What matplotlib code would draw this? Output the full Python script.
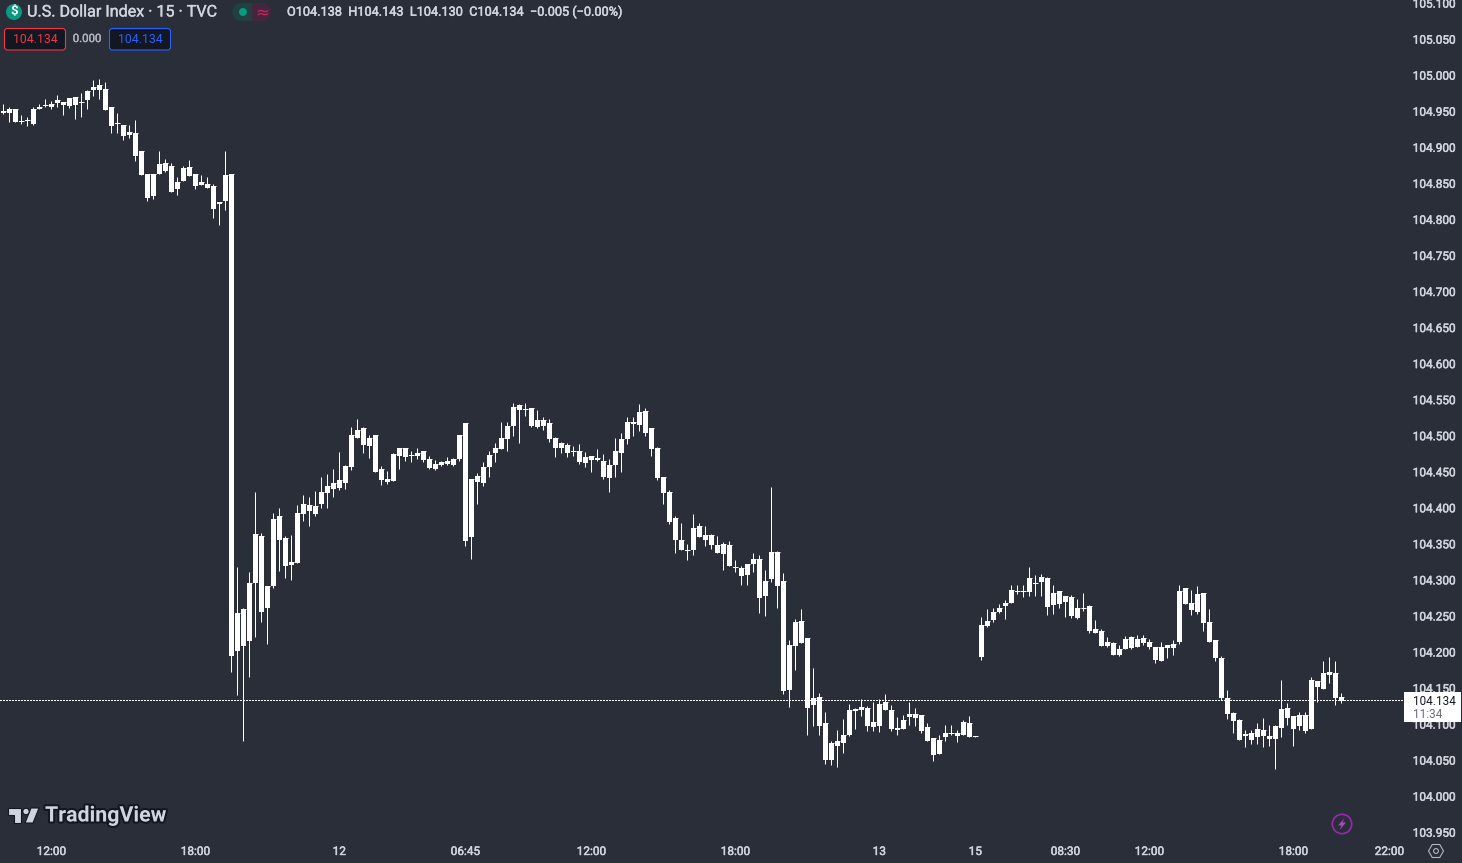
import matplotlib
matplotlib.use("Agg")
import matplotlib.pyplot as plt
import matplotlib.patheffects as pe
from matplotlib.patches import Circle, FancyBboxPatch, Polygon, Rectangle, RegularPolygon, Wedge
from matplotlib.transforms import Affine2D, ScaledTranslation
import numpy as np

W, H = 1462, 863

# 15 minute candles (all are drawn white)
highs = [
    104.961, 104.956, 104.954, 104.945, 104.942, 104.956, 104.961, 104.967, 104.964, 104.973,
    104.963, 104.969, 104.970, 104.976, 104.980, 104.994, 104.995, 104.991, 104.956, 104.948,
    104.931, 104.931, 104.938, 104.895, 104.863, 104.863, 104.895, 104.884, 104.879, 104.859,
    104.875, 104.883, 104.863, 104.862, 104.859, 104.850, 104.825, 104.895, 104.863, 104.318,
    104.262, 104.312, 104.422, 104.366, 104.292, 104.393, 104.400, 104.361, 104.363, 104.404,
    104.418, 104.416, 104.424, 104.443, 104.447, 104.454, 104.478, 104.460, 104.513, 104.524,
    104.513, 104.502, 104.502, 104.458, 104.452, 104.477, 104.483, 104.483, 104.479, 104.483,
    104.479, 104.472, 104.467, 104.465, 104.471, 104.470, 104.502, 104.518, 104.440, 104.449,
    104.464, 104.479, 104.490, 104.520, 104.520, 104.546, 104.544, 104.546, 104.539, 104.536,
    104.526, 104.524, 104.499, 104.492, 104.490, 104.486, 104.489, 104.478, 104.472, 104.482,
    104.475, 104.468, 104.497, 104.504, 104.526, 104.526, 104.544, 104.539, 104.511, 104.485,
    104.443, 104.425, 104.389, 104.379, 104.350, 104.392, 104.379, 104.375, 104.364, 104.361,
    104.353, 104.354, 104.328, 104.320, 104.323, 104.338, 104.335, 104.314, 104.429, 104.341,
    104.310, 104.217, 104.246, 104.260, 104.220, 104.178, 104.144, 104.117, 104.077, 104.092,
    104.108, 104.128, 104.123, 104.135, 104.126, 104.131, 104.135, 104.142, 104.127, 104.110,
    104.113, 104.131, 104.123, 104.113, 104.102, 104.081, 104.085, 104.099, 104.099, 104.092,
    104.106, 104.112, 104.084, 104.249, 104.260, 104.261, 104.267, 104.273, 104.293, 104.293,
    104.293, 104.318, 104.307, 104.309, 104.304, 104.293, 104.285, 104.278, 104.280, 104.274,
    104.282, 104.266, 104.245, 104.232, 104.221, 104.214, 104.210, 104.223, 104.223, 104.224,
    104.224, 104.218, 104.207, 104.214, 104.210, 104.217, 104.293, 104.289, 104.286, 104.292,
    104.282, 104.260, 104.217, 104.195, 104.148, 104.117, 104.108, 104.092, 104.092, 104.102,
    104.109, 104.099, 104.099, 104.162, 104.130, 104.112, 104.117, 104.117, 104.166, 104.160,
    104.188, 104.194, 104.188, 104.143,
]
body_tops = [
    104.951, 104.954, 104.954, 104.937, 104.938, 104.954, 104.956, 104.959, 104.961, 104.966,
    104.963, 104.969, 104.970, 104.963, 104.978, 104.984, 104.987, 104.981, 104.956, 104.934,
    104.931, 104.922, 104.920, 104.895, 104.863, 104.863, 104.877, 104.879, 104.875, 104.852,
    104.872, 104.873, 104.863, 104.852, 104.850, 104.847, 104.824, 104.862, 104.863, 104.255,
    104.260, 104.296, 104.364, 104.361, 104.292, 104.385, 104.389, 104.359, 104.325, 104.393,
    104.406, 104.404, 104.403, 104.423, 104.431, 104.435, 104.439, 104.458, 104.502, 104.508,
    104.511, 104.497, 104.502, 104.454, 104.440, 104.475, 104.483, 104.483, 104.474, 104.477,
    104.479, 104.468, 104.461, 104.464, 104.465, 104.468, 104.502, 104.518, 104.440, 104.445,
    104.457, 104.474, 104.483, 104.497, 104.514, 104.540, 104.543, 104.538, 104.539, 104.522,
    104.522, 104.518, 104.497, 104.490, 104.488, 104.479, 104.479, 104.471, 104.472, 104.470,
    104.465, 104.460, 104.479, 104.496, 104.520, 104.520, 104.533, 104.535, 104.511, 104.483,
    104.443, 104.422, 104.386, 104.356, 104.342, 104.372, 104.375, 104.363, 104.363, 104.349,
    104.350, 104.349, 104.318, 104.317, 104.323, 104.329, 104.329, 104.299, 104.339, 104.339,
    104.299, 104.210, 104.242, 104.244, 104.220, 104.137, 104.138, 104.102, 104.074, 104.077,
    104.085, 104.120, 104.121, 104.124, 104.123, 104.103, 104.128, 104.131, 104.120, 104.095,
    104.106, 104.115, 104.115, 104.113, 104.097, 104.081, 104.078, 104.088, 104.088, 104.088,
    104.103, 104.102, 104.084, 104.238, 104.243, 104.256, 104.261, 104.268, 104.286, 104.285,
    104.285, 104.303, 104.296, 104.304, 104.303, 104.282, 104.285, 104.278, 104.277, 104.261,
    104.262, 104.264, 104.232, 104.230, 104.214, 104.213, 104.205, 104.218, 104.221, 104.218,
    104.220, 104.214, 104.207, 104.207, 104.210, 104.212, 104.285, 104.289, 104.268, 104.281,
    104.282, 104.242, 104.217, 104.192, 104.137, 104.116, 104.106, 104.086, 104.088, 104.094,
    104.092, 104.084, 104.098, 104.122, 104.123, 104.112, 104.113, 104.113, 104.162, 104.160,
    104.171, 104.173, 104.171, 104.138,
]
body_bottoms = [
    104.948, 104.948, 104.935, 104.935, 104.937, 104.933, 104.954, 104.958, 104.957, 104.962,
    104.959, 104.958, 104.959, 104.962, 104.966, 104.980, 104.980, 104.952, 104.930, 104.933,
    104.916, 104.917, 104.888, 104.862, 104.830, 104.833, 104.863, 104.868, 104.839, 104.843,
    104.854, 104.861, 104.847, 104.848, 104.844, 104.815, 104.822, 104.826, 104.195, 104.202,
    104.209, 104.216, 104.296, 104.256, 104.262, 104.292, 104.356, 104.320, 104.321, 104.324,
    104.392, 104.396, 104.392, 104.406, 104.421, 104.427, 104.428, 104.435, 104.457, 104.497,
    104.488, 104.486, 104.450, 104.439, 104.436, 104.438, 104.472, 104.471, 104.472, 104.472,
    104.467, 104.456, 104.454, 104.460, 104.461, 104.460, 104.468, 104.355, 104.360, 104.436,
    104.435, 104.457, 104.477, 104.482, 104.496, 104.514, 104.536, 104.536, 104.514, 104.513,
    104.514, 104.496, 104.483, 104.483, 104.477, 104.478, 104.464, 104.463, 104.467, 104.467,
    104.443, 104.442, 104.460, 104.477, 104.496, 104.517, 104.515, 104.504, 104.482, 104.442,
    104.421, 104.381, 104.356, 104.342, 104.341, 104.342, 104.360, 104.356, 104.349, 104.338,
    104.336, 104.320, 104.317, 104.306, 104.307, 104.323, 104.275, 104.278, 104.302, 104.292,
    104.147, 104.148, 104.209, 104.213, 104.123, 104.127, 104.098, 104.051, 104.051, 104.070,
    104.074, 104.085, 104.119, 104.120, 104.098, 104.097, 104.098, 104.120, 104.094, 104.092,
    104.094, 104.110, 104.109, 104.091, 104.077, 104.058, 104.059, 104.083, 104.087, 104.084,
    104.085, 104.083, 104.083, 104.194, 104.236, 104.245, 104.256, 104.264, 104.268, 104.284,
    104.284, 104.284, 104.295, 104.298, 104.263, 104.266, 104.267, 104.270, 104.250, 104.248,
    104.261, 104.230, 104.227, 104.209, 104.209, 104.196, 104.196, 104.205, 104.206, 104.207,
    104.213, 104.207, 104.189, 104.188, 104.206, 104.206, 104.214, 104.267, 104.259, 104.256,
    104.241, 104.214, 104.192, 104.137, 104.115, 104.105, 104.079, 104.084, 104.079, 104.083,
    104.084, 104.080, 104.080, 104.095, 104.109, 104.094, 104.098, 104.091, 104.094, 104.152,
    104.149, 104.169, 104.137, 104.133,
]
lows = [
    104.946, 104.936, 104.935, 104.933, 104.930, 104.932, 104.954, 104.957, 104.954, 104.957,
    104.945, 104.955, 104.940, 104.943, 104.954, 104.972, 104.967, 104.952, 104.920, 104.920,
    104.911, 104.913, 104.881, 104.862, 104.826, 104.829, 104.863, 104.866, 104.839, 104.834,
    104.854, 104.861, 104.843, 104.848, 104.844, 104.802, 104.793, 104.814, 104.172, 104.141,
    104.077, 104.166, 104.221, 104.242, 104.212, 104.289, 104.313, 104.303, 104.300, 104.324,
    104.382, 104.375, 104.389, 104.400, 104.400, 104.416, 104.425, 104.427, 104.453, 104.497,
    104.477, 104.470, 104.450, 104.432, 104.434, 104.438, 104.454, 104.465, 104.464, 104.468,
    104.464, 104.454, 104.453, 104.458, 104.460, 104.458, 104.465, 104.348, 104.330, 104.406,
    104.431, 104.443, 104.464, 104.482, 104.479, 104.500, 104.490, 104.528, 104.513, 104.511,
    104.508, 104.492, 104.471, 104.477, 104.471, 104.472, 104.461, 104.457, 104.450, 104.465,
    104.440, 104.423, 104.443, 104.450, 104.489, 104.500, 104.507, 104.500, 104.472, 104.439,
    104.406, 104.378, 104.338, 104.342, 104.328, 104.335, 104.360, 104.348, 104.343, 104.338,
    104.314, 104.320, 104.311, 104.293, 104.293, 104.311, 104.255, 104.250, 104.298, 104.262,
    104.142, 104.124, 104.176, 104.213, 104.085, 104.098, 104.085, 104.045, 104.043, 104.041,
    104.061, 104.084, 104.094, 104.112, 104.091, 104.091, 104.090, 104.120, 104.091, 104.085,
    104.094, 104.099, 104.098, 104.088, 104.077, 104.049, 104.059, 104.077, 104.085, 104.076,
    104.085, 104.083, 104.083, 104.189, 104.235, 104.242, 104.255, 104.246, 104.268, 104.281,
    104.277, 104.278, 104.278, 104.278, 104.252, 104.253, 104.261, 104.249, 104.248, 104.246,
    104.257, 104.227, 104.227, 104.209, 104.207, 104.196, 104.195, 104.204, 104.204, 104.207,
    104.210, 104.204, 104.185, 104.188, 104.192, 104.196, 104.211, 104.267, 104.252, 104.253,
    104.230, 104.214, 104.188, 104.134, 104.108, 104.088, 104.079, 104.068, 104.073, 104.073,
    104.068, 104.070, 104.038, 104.083, 104.099, 104.070, 104.092, 104.088, 104.094, 104.131,
    104.149, 104.158, 104.127, 104.130,
]

last_price = 104.134
price_ticks = [105.100, 105.050, 105.000, 104.950, 104.900, 104.850, 104.800, 104.750, 104.700,
               104.650, 104.600, 104.550, 104.500, 104.450, 104.400, 104.350, 104.300, 104.250,
               104.200, 104.150, 104.100, 104.050, 104.000, 103.950]
time_bars = [8, 32, 56, 77, 98, 122, 146, 162, 177, 191, 215, 231]
time_labels = ["12:00", "18:00", "12", "06:45", "12:00", "18:00", "13", "15", "08:30", "12:00", "18:00", "22:00"]

BG = "#2a2e39"
FG = "#d1d4dc"
FONT = "Roboto"


def fx(x):
    return x / W


def fy(y):
    return 1 - y / H


def thicker(color, width=0.35):
    # the reference text is a little heavier than Roboto regular
    return [pe.withStroke(linewidth=width, foreground=color)]


def label(x, y, s, **kw):
    # text placed by pixel position in the picture
    kw.setdefault("family", FONT)
    kw.setdefault("color", FG)
    kw.setdefault("va", "center")
    return fig.text(fx(x), fy(y), s, **kw)


def add_patch(p):
    p.set_transform(pix)
    p.set_zorder(5)
    fig.add_artist(p)


fig = plt.figure(figsize=(W / 100, H / 100), dpi=100, facecolor=BG)
# maps pixels with y going down onto the figure
pix = Affine2D().scale(1, -1).translate(0, H)

ax = fig.add_axes([0, 1 - 838 / H, 1403 / W, 838 / H], facecolor=BG)
for s in ax.spines.values():
    s.set_visible(False)

bars = np.arange(len(highs))
ax.vlines(bars, lows, highs, color="white", lw=0.72, zorder=3)
ax.bar(bars, np.array(body_tops) - np.array(body_bottoms), bottom=body_bottoms,
       width=5 / 6, color="white", linewidth=0, zorder=3)
# very thin bodies still show as a 1px dash
ax.hlines(body_tops, bars - 2.5 / 6, bars + 2.5 / 6, color="white", lw=0.72, zorder=3)

ax.axhline(last_price, color="white", lw=0.72, linestyle=(0, (1.5, 1.5)), antialiased=False, zorder=4)

ax.set_xlim(-3.3 / 6, (1403 - 3.3) / 6)
ax.set_ylim(105 - (838 - 75.5) / 721, 105 + 75.5 / 721)

ax.yaxis.tick_right()
ax.set_yticks(price_ticks)
ax.set_yticklabels([f"{p:.3f}" for p in price_ticks], family=FONT, fontsize=8.5, color=FG)
ax.set_xticks(time_bars)
ax.set_xticklabels(time_labels, family=FONT, fontsize=8.5, color=FG)
ax.tick_params(axis="y", length=0, pad=7)
ax.tick_params(axis="x", length=0, pad=5)

# nudge price labels by a pixel to sit where the reference has them
up_one = ScaledTranslation(0, 0.8 / 100, fig.dpi_scale_trans)
for t in ax.get_yticklabels():
    t.set_transform(t.get_transform() + up_one)
    t.set_path_effects(thicker(FG))
for t in ax.get_xticklabels():
    t.set_path_effects(thicker(FG))

# last price tag
add_patch(Rectangle((1404, 692), 57, 30, facecolor="white", edgecolor="none"))
label(1412.5, 701.5, "104.134", fontsize=8.5, color="#131722", zorder=6)
label(1412.5, 715, "11:34", fontsize=8.5, color="#6a6d78", zorder=6)

# legend row
add_patch(Circle((14, 12), 8, facecolor="#089981", edgecolor="none"))
label(14, 12, "$", fontsize=9.5, color="white", weight="bold", ha="center", zorder=6)
label(27, 12, "U.S. Dollar Index · 15 · TVC", fontsize=11.6, zorder=6, path_effects=thicker(FG, 0.25))
add_patch(Wedge((241.5, 12), 9.2, 90, 270, facecolor="#223f41", edgecolor="none"))
add_patch(Rectangle((241.5, 2.8), 10.5, 18.4, facecolor="#223f41", edgecolor="none"))
add_patch(Rectangle((252, 2.8), 10, 18.4, facecolor="#44263f", edgecolor="none"))
add_patch(Wedge((262, 12), 9.2, 270, 90, facecolor="#44263f", edgecolor="none"))
add_patch(Circle((243, 12), 4, facecolor="#089981", edgecolor="none"))
label(262, 12, "≈", fontsize=12, color="#d81e5b", ha="center", family="DejaVu Sans", zorder=6)
label(287, 12, "O104.138  H104.143  L104.130  C104.134  −0.005 (−0.00%)", fontsize=9.15, zorder=6,
      path_effects=thicker(FG))

# price boxes
add_patch(FancyBboxPatch((4.5, 28.5), 61, 21.5, boxstyle="round,pad=0,rounding_size=3",
                         facecolor="#131722", edgecolor="#f23645", linewidth=0.8))
label(35, 39.5, "104.134", fontsize=8.8, color="#f23645", ha="center", zorder=6)
label(87, 39, "0.000", fontsize=8.2, color="#b2b5be", ha="center", zorder=6, path_effects=thicker("#b2b5be", 0.25))
add_patch(FancyBboxPatch((109.5, 28.5), 61, 21.5, boxstyle="round,pad=0,rounding_size=3",
                         facecolor="#131722", edgecolor="#2962ff", linewidth=0.8))
label(140, 39.5, "104.134", fontsize=8.8, color="#2962ff", ha="center", zorder=6)

# TradingView logo
logo_c = "#d1d4dc"
halo = [pe.withStroke(linewidth=3, foreground="#131722")]
for pts in ([(7.5, 808), (21, 808), (21, 823), (14, 823), (14, 815), (7.5, 815)],
            [(25, 823), (31, 808), (39, 808), (33, 823)]):
    add_patch(Polygon(pts, closed=True, facecolor=logo_c, edgecolor="#131722", linewidth=0.8))
add_patch(Circle((26, 811.5), 3.2, facecolor=logo_c, edgecolor="#131722", linewidth=0.8))
label(45, 816, "TradingView", fontsize=15.4, weight="bold", color=logo_c, zorder=6, path_effects=halo)

# lightning button
add_patch(Circle((1342, 824), 9.7, facecolor="none", edgecolor="#9c27b0", linewidth=1.2))
add_patch(Polygon([(1344.5, 818), (1338, 825.5), (1341.5, 825.5), (1339.5, 830), (1346, 822.5), (1342.5, 822.5)],
                  closed=True, facecolor="#ab47bc", edgecolor="none"))

# settings hexagon
add_patch(RegularPolygon((1436, 851), 6, radius=7.5, orientation=np.pi / 6,
                         facecolor="none", edgecolor="#b2b5be", linewidth=0.8))
add_patch(Circle((1436, 851), 2.4, facecolor="none", edgecolor="#b2b5be", linewidth=0.8))

fig.savefig("out.png", dpi=100, facecolor=BG)
